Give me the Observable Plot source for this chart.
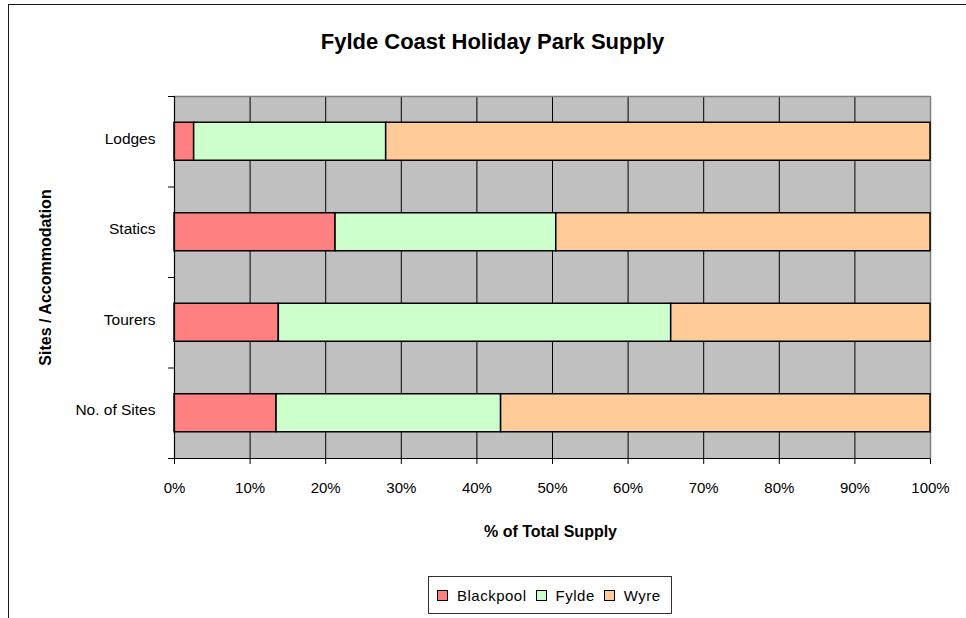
<!DOCTYPE html>
<html>
<head>
<meta charset="utf-8">
<script src="https://cdn.jsdelivr.net/npm/d3@7"></script>
<script src="https://cdn.jsdelivr.net/npm/@observablehq/plot@0.6"></script>
<style>
  html, body { margin: 0; padding: 0; background: #fff; overflow: hidden; }
  #page { position: relative; width: 966px; height: 618px; overflow: hidden;
          font-family: "Liberation Sans", Arial, sans-serif; color: #000; }
  #border { position: absolute; left: 8px; top: 4px; width: 1000px; height: 700px;
            border: 1.5px solid #1a1a1a; box-sizing: border-box; }
  #title { position: absolute; left: 8px; width: 969px; top: 31px; line-height: 22px;
           text-align: center; font-size: 22px; font-weight: bold; }
  #chart { position: absolute; left: 0; top: 0; }
  #legend { position: absolute; left: 428px; top: 576px; width: 244px; height: 38px;
            box-sizing: border-box; border: 1px solid #333; display: flex; align-items: center;
            padding-left: 8px; font-size: 15px; letter-spacing: 0.5px; }
  .item { display: flex; align-items: center; margin-right: 9px; }
  .swatch { width: 11px; height: 11px; box-sizing: border-box; border: 1.5px solid #000; margin-right: 9px; }
</style>
</head>
<body>
<div id="page">
  <div id="border"></div>
  <div id="chart"></div>
  <div id="title">Fylde Coast Holiday Park Supply</div>
  <div id="legend"></div>
</div>
<script>
// Share of holiday park supply by district, in percent of each row's total
const categories = ["No. of Sites", "Tourers", "Statics", "Lodges"];
const blackpool = [13.5, 13.8, 21.3, 2.6];
const fylde = [29.7, 51.9, 29.2, 25.4];
const wyre = [56.8, 34.3, 49.5, 72.0];
const regions = ["Blackpool", "Fylde", "Wyre"];
const regionColors = ["#FF8080", "#CCFFCC", "#FFCC99"];
const xTicks = [0, 10, 20, 30, 40, 50, 60, 70, 80, 90, 100];
const yTitle = "Sites / Accommodation";
const xTitle = "% of Total Supply";

// Stack the three districts along x for every category row
const series = [blackpool, fylde, wyre];
const rows = [];
categories.forEach((cat, i) => {
  let start = 0;
  regions.forEach((r, k) => {
    const v = series[k][i];
    rows.push({category: cat, index: i, region: r, x1: start, x2: start + v});
    start += v;
  });
});

const halfBar = 0.21; // half of bar thickness, in category-band units

const chart = Plot.plot({
  width: 966,
  height: 550,
  marginLeft: 174,
  marginRight: 36,
  marginTop: 96,
  marginBottom: 92,
  style: {
    fontFamily: '"Liberation Sans", Arial, sans-serif',
    fontSize: "15px",
    color: "#000",
    background: "transparent"
  },
  x: {domain: [0, 100], ticks: xTicks, tickFormat: d => d + "%", tickSize: 6, tickPadding: 18, label: null},
  y: {domain: [0, categories.length], ticks: d3.range(categories.length + 1), tickFormat: () => "", tickSize: 6, label: null},
  color: {domain: regions, range: regionColors},
  marks: [
    Plot.frame({fill: "#C0C0C0"}),
    Plot.ruleX(xTicks.slice(1, -1), {stroke: "#000", strokeWidth: 1}),
    Plot.ruleY([categories.length], {stroke: "#808080", strokeWidth: 1.5}),
    Plot.ruleX([100], {stroke: "#808080", strokeWidth: 1.5}),
    Plot.rect(rows, {
      x1: "x1", x2: "x2",
      y1: d => d.index + 0.5 - halfBar,
      y2: d => d.index + 0.5 + halfBar,
      fill: "region", stroke: "#000", strokeWidth: 1.5
    }),
    Plot.ruleX([0], {stroke: "#000", strokeWidth: 1.2}),
    Plot.ruleY([0], {stroke: "#000", strokeWidth: 1.2}),
    Plot.text(categories, {
      text: d => d, y: (d, i) => i + 0.5, frameAnchor: "left",
      textAnchor: "end", dx: -19, dy: -3, fontSize: 15.5, fill: "#000"
    }),
    Plot.text([yTitle], {
      text: d => d, frameAnchor: "left", textAnchor: "middle", lineAnchor: "middle",
      rotate: -90, dx: -129, fontSize: 16, fontWeight: "bold", fill: "#000"
    }),
    Plot.text([xTitle], {
      text: d => d, frameAnchor: "bottom", textAnchor: "middle", lineAnchor: "middle",
      dy: 73, dx: -2, fontSize: 16, fontWeight: "bold", fill: "#000"
    })
  ]
});
document.getElementById("chart").appendChild(chart);

// Legend boxes
const legend = d3.select("#legend");
regions.forEach((r, k) => {
  const item = legend.append("div").attr("class", "item");
  item.append("div").attr("class", "swatch").style("background", regionColors[k]);
  item.append("span").text(r);
});
</script>
</body>
</html>
